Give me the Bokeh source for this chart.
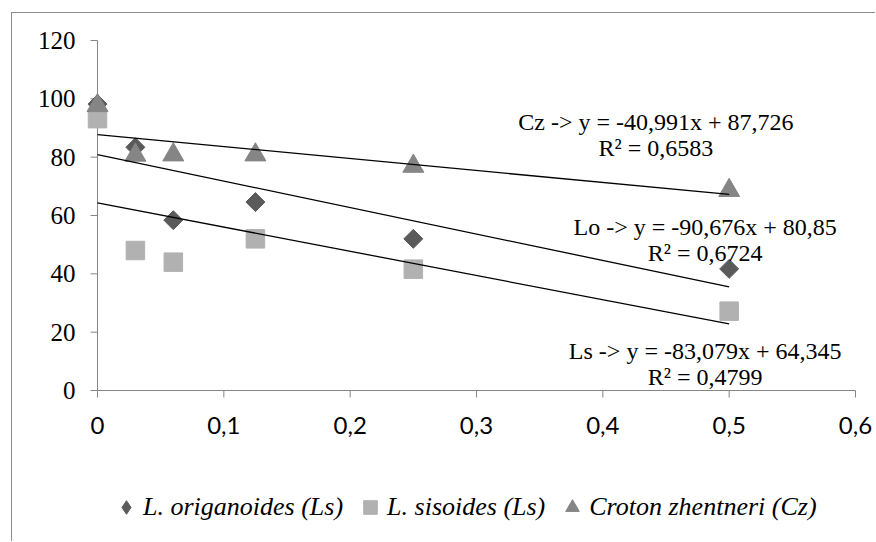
import numpy as np
from bokeh.plotting import figure
from bokeh.models import (ColumnDataSource, Legend, LegendItem, Range1d, Label)
from bokeh.core.properties import value
from bokeh.embed import file_html
from bokeh.resources import INLINE

# ---------------- data ----------------
conc = [0, 0.03, 0.06, 0.125, 0.25, 0.5]
lo_vals = [98.2, 83.4, 58.4, 64.6, 52.0, 41.7]
ls_vals = [93.2, 48.0, 44.0, 52.0, 41.6, 27.2]
cz_vals = [97.7, 80.7, 80.8, 80.8, 76.9, 68.6]

series_names = ["L. origanoides (Ls)", "L. sisoides (Ls)", "Croton zhentneri (Cz)"]
fit_names = ["Lo", "Ls", "Cz"]
fit_slopes = [-90.676, -83.079, -40.991]
fit_intercepts = [80.85, 64.345, 87.726]
fit_r2 = [0.6724, 0.4799, 0.6583]
fit_x_span = [0, 0.5]

x_ticks = [0, 0.1, 0.2, 0.3, 0.4, 0.5, 0.6]
x_tick_labels = ["0", "0,1", "0,2", "0,3", "0,4", "0,5", "0,6"]
y_ticks = [0, 20, 40, 60, 80, 100, 120]
y_tick_labels = ["0", "20", "40", "60", "80", "100", "120"]

# ---------------- geometry (canvas 864x529, plot area 758x350) ----------------
W, H = 864, 529
LEFT, TOP, PW, PH = 85, 27, 758, 350
PX_X = PW / 0.6
PX_Y = PH / 120
x_lo = -LEFT / PX_X
x_hi = 0.6 + (W - LEFT - PW) / PX_X
y_hi = 120 + TOP / PX_Y
y_lo = y_hi - H / PX_Y

SERIF = "Liberation Serif"
AXIS_C = "#868686"

p = figure(width=W, height=H, x_range=Range1d(x_lo, x_hi), y_range=Range1d(y_lo, y_hi),
           output_backend="svg", toolbar_location=None,
           x_axis_location=None, y_axis_location=None,
           min_border=0, min_border_left=0, min_border_right=0,
           min_border_top=0, min_border_bottom=0)
p.styles = {"margin-left": "11px", "margin-top": "12px",
            "border-top": "1px solid #8c8c8c", "border-left": "1px solid #8c8c8c"}
p.outline_line_color = None
p.grid.visible = False
p.background_fill_color = "white"
p.border_fill_color = "white"

# ---------------- axes (drawn through the data scales) ----------------
n_x, n_y = len(x_ticks), len(y_ticks)
tx = 7 / PX_X
ty = 7 / PX_Y
# x axis
p.segment(x0=[x_ticks[0]], y0=[0], x1=[x_ticks[-1]], y1=[0], line_color=AXIS_C, line_width=1)
p.segment(x0=x_ticks, y0=[0] * n_x, x1=x_ticks, y1=[-ty] * n_x, line_color=AXIS_C, line_width=1)
p.text(x=x_ticks, y=[0] * n_x, text=x_tick_labels, y_offset=35,
       text_align="center", text_baseline="middle", text_font=value("Lato"),
       text_font_size="24px", text_color="black")
# y axis
p.segment(x0=[0], y0=[y_ticks[0]], x1=[0], y1=[y_ticks[-1]], line_color=AXIS_C, line_width=1)
p.segment(x0=[0] * n_y, y0=y_ticks, x1=[-tx] * n_y, y1=y_ticks, line_color=AXIS_C, line_width=1)
p.text(x=[0] * n_y, y=y_ticks, text=y_tick_labels, x_offset=-22,
       text_align="right", text_baseline="middle", text_font=value(SERIF),
       text_font_size="25px", text_color="black")

# ---------------- markers ----------------
src = ColumnDataSource(dict(x=conc, lo=lo_vals, ls=ls_vals, cz=cz_vals))
c_lo, c_ls, c_cz = "#5a5a5a", "#b1b1b1", "#858585"
p.scatter("x", "lo", source=src, marker="square", angle=np.pi / 4, size=13.4,
          fill_color=c_lo, line_color=c_lo)
p.scatter("x", "ls", source=src, marker="square", size=18.5,
          fill_color=c_ls, line_color=c_ls)
p.scatter("x", "cz", source=src, marker="triangle", size=21,
          fill_color=c_cz, line_color=c_cz)

# legend-only renderers (outside the visible range)
far = ColumnDataSource(dict(x=[-10], y=[-1000]))
r_lo = p.scatter("x", "y", source=far, marker="diamond", fill_color=c_lo, line_color=c_lo)
r_ls = p.scatter("x", "y", source=far, marker="square", fill_color=c_ls, line_color=c_ls)
r_cz = p.scatter("x", "y", source=far, marker="triangle", fill_color=c_cz, line_color=c_cz)

# ---------------- trendlines ----------------
for m, b in zip(fit_slopes, fit_intercepts):
    xs = fit_x_span
    ys = [b + m * x for x in xs]
    p.line(xs, ys, line_color="black", line_width=1.3)

# ---------------- equation labels ----------------
def num(v):
    return str(v).replace(".", ",")

label_pos = {"Cz": (0.442, 91.9, 83.0), "Lo": (0.481, 55.9, 47.0), "Ls": (0.481, 13.7, 4.5)}
for name, m, b, r in zip(fit_names, fit_slopes, fit_intercepts, fit_r2):
    lx, ly1, ly2 = label_pos[name]
    for txt, ly in ((f"{name} -> y = {num(m)}x + {num(b)}", ly1), (f"R² = {num(r)}", ly2)):
        p.add_layout(Label(x=lx, y=ly, text=txt, text_align="center", text_baseline="middle",
                           text_font=SERIF, text_font_size="24px", text_color="black"))

# ---------------- legend ----------------
legend = Legend(items=[LegendItem(label=series_names[0], renderers=[r_lo]),
                       LegendItem(label=series_names[1], renderers=[r_ls]),
                       LegendItem(label=series_names[2], renderers=[r_cz])],
                orientation="horizontal", location=(97, 18),
                glyph_width=34, glyph_height=34, label_standoff=0, spacing=10,
                padding=0, margin=0, border_line_color=None, background_fill_alpha=0,
                label_text_font=SERIF, label_text_font_style="italic",
                label_text_font_size="26px", label_text_color="black")
p.add_layout(legend, "center")

open("out.html", "w").write(file_html(p, INLINE))
